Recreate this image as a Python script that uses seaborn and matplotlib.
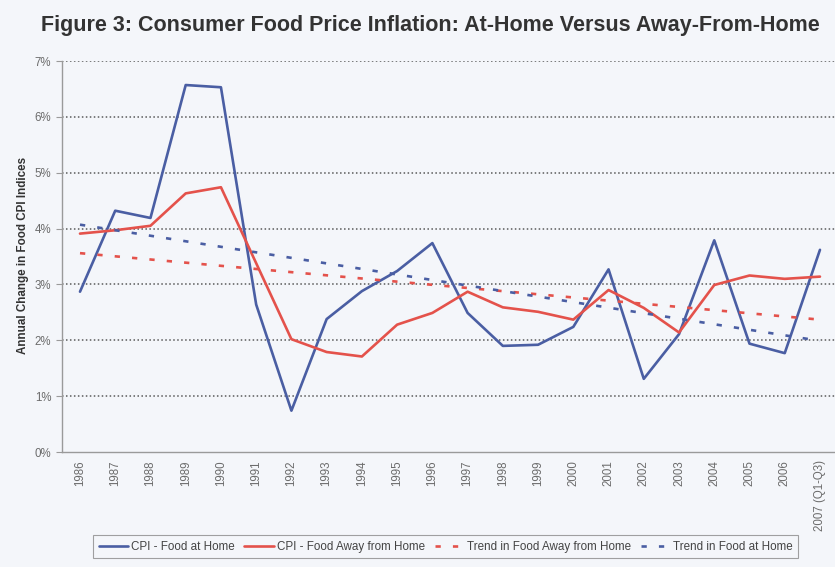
import matplotlib
matplotlib.use("Agg")
import matplotlib.pyplot as plt
import seaborn as sns
import pandas as pd
import numpy as np

# Year labels on the category axis
years = ["1986", "1987", "1988", "1989", "1990", "1991", "1992", "1993", "1994",
         "1995", "1996", "1997", "1998", "1999", "2000", "2001", "2002", "2003",
         "2004", "2005", "2006", "2007 (Q1-Q3)"]

# Annual percent change in the food CPI indices
food_at_home = [2.87, 4.32, 4.19, 6.57, 6.53, 2.64, 0.74, 2.38, 2.88, 3.24, 3.74,
                2.49, 1.90, 1.92, 2.24, 3.27, 1.31, 2.11, 3.79, 1.94, 1.77, 3.62]
food_away = [3.91, 3.97, 4.05, 4.63, 4.74, 3.38, 2.02, 1.79, 1.71, 2.28, 2.49,
             2.87, 2.59, 2.51, 2.37, 2.90, 2.58, 2.14, 2.99, 3.16, 3.10, 3.14]

# Linear trend lines: values at the first and last year
trend_away = [3.56, 2.37]
trend_home = [4.07, 1.99]

y_ticks = [0, 1, 2, 3, 4, 5, 6, 7]
y_tick_labels = ["0%", "1%", "2%", "3%", "4%", "5%", "6%", "7%"]

BLUE = "#4a5ea3"
RED = "#e4524b"
BG = "#f4f6fa"
GRAY = "#6b6b6b"

sns.set_theme(style="white")
plt.rcParams["font.family"] = ["Liberation Sans", "DejaVu Sans"]

fig = plt.figure(figsize=(8.35, 5.67), dpi=100, facecolor=BG)
ax = fig.add_axes([0.0747, 0.2028, 0.9284, 0.6896])
ax.set_facecolor(BG)

pos = np.arange(len(years))
df = pd.DataFrame({"pos": pos, "home": food_at_home, "away": food_away})
ends = [pos[0], pos[-1]]

sns.lineplot(data=df, x="pos", y="home", ax=ax, color=BLUE, linewidth=1.9,
             label="CPI - Food at Home")
sns.lineplot(data=df, x="pos", y="away", ax=ax, color=RED, linewidth=1.9,
             label="CPI - Food Away from Home")
sns.lineplot(x=ends, y=trend_away, ax=ax, color=RED, linewidth=1.9,
             linestyle=(0, (2.0, 4.6)), label="Trend in Food Away from Home")
sns.lineplot(x=ends, y=trend_home, ax=ax, color=BLUE, linewidth=1.9,
             linestyle=(0, (2.0, 4.6)), label="Trend in Food at Home")

ax.set_xlim(-0.5, len(years) - 0.5)
ax.set_ylim(0, 7)

# dotted horizontal gridlines
for v in y_ticks[1:]:
    ax.axhline(v, color="#5a5a5a", linewidth=1.1, linestyle=(0, (1, 1.6)), zorder=0)

ax.set_yticks(y_ticks)
ax.set_yticklabels(y_tick_labels, fontsize=8.3, color=GRAY)
ax.set_xticks(pos)
ax.set_xticklabels(years, rotation=90, fontsize=8.3, color=GRAY)
ax.set_xticks(np.arange(-0.5, len(years), 1), minor=True)
ax.tick_params(axis="x", which="major", length=0, pad=6)
ax.tick_params(axis="x", which="minor", length=4, color="#9a9a9a", width=0.8, direction="out")
ax.tick_params(axis="y", which="major", length=4, color="#9a9a9a", width=0.8,
               direction="out", left=True, pad=4)

for side in ["top", "right"]:
    ax.spines[side].set_visible(False)
for side in ["left", "bottom"]:
    ax.spines[side].set_color("#9a9a9a")
    ax.spines[side].set_linewidth(1.0)

ax.set_xlabel("")
ax.set_ylabel("")
fig.text(0.027, 0.55, "Annual Change in Food CPI Indices", rotation=90,
         ha="center", va="center", fontsize=8.4, fontweight="bold", color="#333333")

fig.text(0.515, 0.955, "Figure 3: Consumer Food Price Inflation: At-Home Versus Away-From-Home",
         ha="center", va="center", fontsize=15.5, fontweight="bold", color="#333333")

handles, labels = ax.get_legend_handles_labels()
leg = fig.legend(handles, labels, loc="center", bbox_to_anchor=(0.534, 0.036), ncol=4,
                 fontsize=8.4, frameon=True, fancybox=False, handlelength=2.5,
                 handletextpad=0.3, columnspacing=0.8, borderpad=0.45,
                 labelcolor="#444444")
leg.get_frame().set_edgecolor("#8a8a8a")
leg.get_frame().set_linewidth(0.8)
leg.get_frame().set_facecolor(BG)
if ax.get_legend() is not None:
    ax.get_legend().remove()

fig.savefig("out.png", dpi=100, facecolor=BG)
